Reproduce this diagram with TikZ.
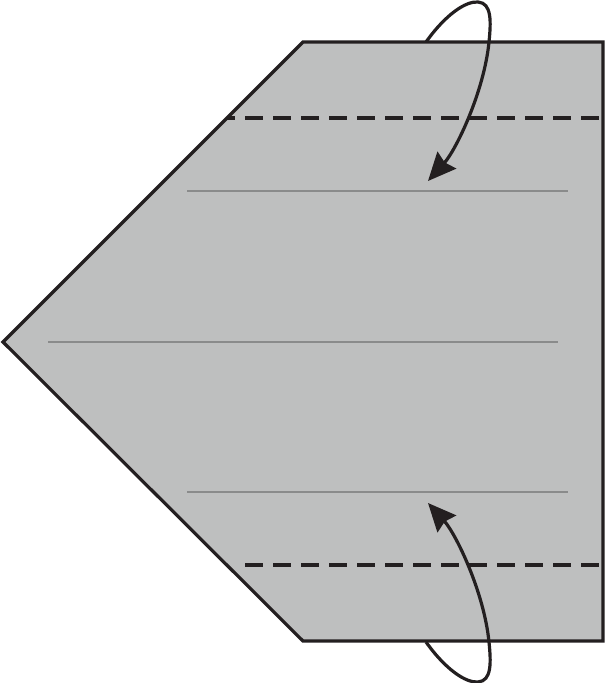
\documentclass[tikz,border=0pt]{standalone}
\usepackage{xcolor}
\usepackage{tikz}
\usetikzlibrary{arrows.meta}

\definecolor{papergray}{HTML}{BEBFBF}
\definecolor{inkdark}{HTML}{231F20}
\definecolor{creasegray}{HTML}{8A8B8B}

\begin{document}
\begin{tikzpicture}[x=1pt, y=-1pt,
					paper/.style={fill=papergray, draw=inkdark, line width=3.2pt, line join=miter},
					crease/.style={draw=creasegray, line width=1.5pt},
					foldline/.style={draw=inkdark, line width=3.2pt, dash pattern=on 18pt off 10pt},
					turnarrow/.style={draw=inkdark, line width=3.2pt, -{Stealth[length=28pt, width=25pt, inset=3pt]}}]

					\useasboundingbox (0,0) rectangle (605,683);

					\draw[paper] (303,42) -- (603,42) -- (603,641) -- (303,641) -- (3,342) -- cycle;

					\draw[crease] (187,191) -- (568,191);
					\draw[crease] (48,342) -- (558,342);
					\draw[crease] (187,492) -- (568,492);

					\draw[foldline, dash phase=10pt] (227,118) -- (603,118);
					\draw[foldline] (245,565) -- (603,565);

					\coordinate (topstart) at (426,42);
					\coordinate (toptip) at (428,181);
					\coordinate (botstart) at (426,642);
					\coordinate (bottip) at (428,503);

					\draw[turnarrow] (topstart) .. controls (446,14) and (466,1) .. (478,2)
						.. controls (492,3) and (491,22) .. (489,42)
						.. controls (484,92) and (456,150) .. (toptip);
					\draw[turnarrow] (botstart) .. controls (446,670) and (466,683) .. (478,682)
						.. controls (492,681) and (491,662) .. (489,642)
						.. controls (484,592) and (456,534) .. (bottip);
				\end{tikzpicture}
\end{document}
